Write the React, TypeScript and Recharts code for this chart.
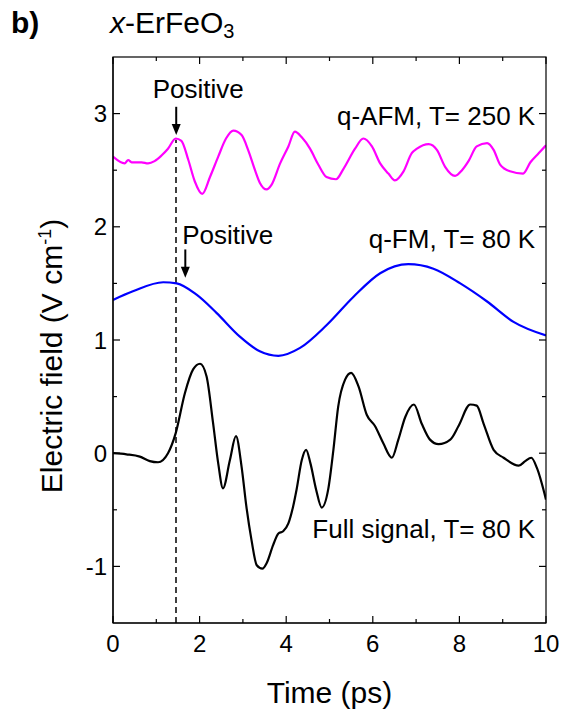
import React from 'react';
import { LineChart, Line, XAxis, YAxis, ReferenceLine, ReferenceDot } from 'recharts';

const FONT = "'Liberation Sans', Arial, Helvetica, sans-serif";

// x: time (ps), y: electric field (V/cm)
const timeTicks = [0, 1, 2, 3, 4, 5, 6, 7, 8, 9, 10];
const fieldTicks = [-1, -0.5, 0, 0.5, 1, 1.5, 2, 2.5, 3];
const timeMin = 0;
const timeMax = 10;
const fieldMin = -1.5;
const fieldMax = 3.5;

// q-AFM, T = 250 K (magenta)
const afmTime = [0, 0.27, 0.35, 0.43, 0.66, 0.81, 0.96, 1.12, 1.27, 1.45, 1.58, 1.74, 1.89, 2.06, 2.24, 2.43, 2.61, 2.78, 2.97, 3.12, 3.28, 3.39, 3.55, 3.66, 3.86, 4.05, 4.2, 4.36, 4.55, 4.74, 4.93, 5.15, 5.32, 5.59, 5.78, 5.98, 6.17, 6.36, 6.51, 6.71, 6.9, 7.02, 7.29, 7.48, 7.67, 7.9, 8.06, 8.21, 8.4, 8.64, 8.79, 8.94, 9.17, 9.47, 9.64, 9.83, 10];
const afmField = [2.62, 2.56, 2.59, 2.57, 2.57, 2.56, 2.58, 2.63, 2.69, 2.78, 2.76, 2.59, 2.4, 2.29, 2.44, 2.62, 2.78, 2.85, 2.81, 2.68, 2.5, 2.39, 2.33, 2.37, 2.56, 2.71, 2.84, 2.79, 2.69, 2.55, 2.44, 2.42, 2.51, 2.69, 2.78, 2.71, 2.56, 2.47, 2.41, 2.49, 2.65, 2.69, 2.73, 2.68, 2.53, 2.45, 2.5, 2.58, 2.71, 2.74, 2.68, 2.55, 2.49, 2.47, 2.57, 2.65, 2.72];

// q-FM, T = 80 K (blue)
const fmTime = [0, 0.46, 1.16, 1.47, 1.93, 2.39, 2.93, 3.39, 3.82, 4.32, 4.93, 5.55, 6.17, 6.82, 7.4, 8.02, 8.64, 9.25, 10];
const fmField = [1.354, 1.43, 1.51, 1.5, 1.4, 1.24, 1.03, 0.9, 0.86, 0.93, 1.13, 1.38, 1.59, 1.67, 1.63, 1.5, 1.34, 1.16, 1.04];

// Full signal, T = 80 K (black)
const fullTime = [0, 0.31, 0.62, 0.85, 1.04, 1.27, 1.45, 1.66, 1.85, 2.01, 2.16, 2.31, 2.43, 2.54, 2.7, 2.84, 2.97, 3.08, 3.2, 3.32, 3.45, 3.55, 3.7, 3.82, 3.93, 4.05, 4.16, 4.24, 4.36, 4.46, 4.56, 4.69, 4.82, 4.97, 5.09, 5.2, 5.36, 5.5, 5.67, 5.86, 6.05, 6.24, 6.44, 6.59, 6.75, 6.95, 7.13, 7.32, 7.52, 7.79, 7.98, 8.25, 8.4, 8.56, 8.79, 9.02, 9.37, 9.52, 9.66, 9.79, 10];
const fullField = [0, -0.01, -0.03, -0.07, -0.08, 0, 0.18, 0.53, 0.74, 0.79, 0.68, 0.27, -0.09, -0.31, -0.06, 0.15, -0.12, -0.47, -0.77, -0.99, -1.02, -0.97, -0.81, -0.71, -0.69, -0.62, -0.47, -0.32, -0.06, 0.03, -0.09, -0.32, -0.48, -0.32, 0.03, 0.41, 0.65, 0.71, 0.59, 0.34, 0.24, 0.09, -0.04, 0.12, 0.32, 0.43, 0.26, 0.12, 0.08, 0.12, 0.24, 0.43, 0.42, 0.26, 0.03, -0.04, -0.11, -0.07, -0.04, -0.13, -0.41];

// Annotations
const noteLabels = ['Positive', 'Positive', 'q-AFM, T= 250 K', 'q-FM, T= 80 K', 'Full signal, T= 80 K'];
const noteTimes = [1.97, 2.65, 9.75, 9.75, 9.75];
const noteFields = [3.136, 1.849, 2.9, 1.81, -0.75];
const noteAnchors = ['middle', 'middle', 'end', 'end', 'end'];

const arrowTimes = [1.46, 1.67];
const arrowTops = [3.06, 1.8];
const arrowTips = [2.81, 1.55];

const markerTime = 1.455;
const markerTop = 2.77;

const zip = (ts: number[], vs: number[]) => ts.map((t, i) => ({ t, v: vs[i] }));
const afmData = zip(afmTime, afmField);
const fmData = zip(fmTime, fmField);
const fullData = zip(fullTime, fullField);

// layout
const CHART_W = 563;
const CHART_H = 713;
const MARGIN = { top: 57, right: 17, bottom: 30, left: 8 };
const Y_AXIS_W = 105;
const X_AXIS_H = 60;
const PLOT_X = MARGIN.left + Y_AXIS_W;
const PLOT_Y = MARGIN.top;
const PLOT_W = CHART_W - MARGIN.left - MARGIN.right - Y_AXIS_W;
const PLOT_H = CHART_H - MARGIN.top - MARGIN.bottom - X_AXIS_H;
const X_MARGIN = 12;
const Y_MARGIN = 7;

// bottom ticks + mirrored top ticks
const BottomTick = (props: any) => {
  const { x, y, payload } = props;
  const major = payload.value % 2 === 0;
  const len = major ? 7 : 4;
  const axisY = y - X_MARGIN;
  const topY = axisY - PLOT_H;
  return (
    <g>
      <path d={`M${x},${axisY}V${axisY - len}`} stroke="#000" strokeWidth={1.2} fill="none" />
      <path d={`M${x},${topY}V${topY + len}`} stroke="#000" strokeWidth={1.2} fill="none" />
      {major && (
        <text x={x} y={axisY + 29} textAnchor="middle" fontSize={24} fontFamily={FONT} fill="#000">
          {payload.value}
        </text>
      )}
    </g>
  );
};

// left ticks + mirrored right ticks
const LeftTick = (props: any) => {
  const { x, y, payload } = props;
  const major = Number.isInteger(payload.value);
  const len = major ? 7 : 4;
  const axisX = x + Y_MARGIN;
  const rightX = axisX + PLOT_W;
  return (
    <g>
      <path d={`M${axisX},${y}H${axisX + len}`} stroke="#000" strokeWidth={1.2} fill="none" />
      <path d={`M${rightX},${y}H${rightX - len}`} stroke="#000" strokeWidth={1.2} fill="none" />
      {major && (
        <text x={axisX - 6} y={y + 8.6} textAnchor="end" fontSize={24} fontFamily={FONT} fill="#000">
          {String(payload.value)}
        </text>
      )}
    </g>
  );
};

const YLabel = () => (
  <text transform="translate(61.7, 356) rotate(-90)" textAnchor="middle" fontSize={30} fontFamily={FONT} fill="#000">
    Electric field (V cm<tspan dy={-11} fontSize={18}>-1</tspan>
    <tspan dy={11}>)</tspan>
  </text>
);

const XLabel = () => (
  <text x={329.5} y={703} textAnchor="middle" fontSize={30} fontFamily={FONT} fill="#000">
    Time (ps)
  </text>
);

const makeNote = (label: string, anchor: string) => (p: any) => (
  <text x={p.cx} y={p.cy} textAnchor={anchor} fontSize={26} fontFamily={FONT} fill="#000">
    {label}
  </text>
);

const ArrowHead = (p: any) => (
  <polygon points={`${p.cx - 4.5},${p.cy - 11} ${p.cx + 4.5},${p.cy - 11} ${p.cx},${p.cy}`} fill="#000" />
);

export default function App() {
  return (
    <div style={{ position: 'relative', width: CHART_W, height: CHART_H }}>
      <style>{'html { overflow: hidden; } body { margin: 0; }'}</style>
      <LineChart width={CHART_W} height={CHART_H} margin={MARGIN}>
        <XAxis
          dataKey="t"
          type="number"
          domain={[timeMin, timeMax]}
          ticks={timeTicks}
          interval={0}
          allowDataOverflow
          height={X_AXIS_H}
          tickSize={0}
          tickMargin={X_MARGIN}
          tickLine={false}
          axisLine={{ stroke: '#000', strokeWidth: 1.2 }}
          tick={<BottomTick />}
          label={<XLabel />}
        />
        <YAxis
          type="number"
          domain={[fieldMin, fieldMax]}
          ticks={fieldTicks}
          interval={0}
          allowDataOverflow
          width={Y_AXIS_W}
          tickSize={0}
          tickMargin={Y_MARGIN}
          tickLine={false}
          axisLine={{ stroke: '#000', strokeWidth: 1.2 }}
          tick={<LeftTick />}
          label={<YLabel />}
        />
        <ReferenceLine
          segment={[{ x: markerTime, y: fieldMin }, { x: markerTime, y: markerTop }]}
          stroke="#000"
          strokeWidth={1.5}
          strokeDasharray="6 4"
          ifOverflow="visible"
        />
        <Line data={afmData} dataKey="v" type="monotone" stroke="#FF00FF" strokeWidth={2.2} dot={false} isAnimationActive={false} />
        <Line data={fmData} dataKey="v" type="monotone" stroke="#0000FF" strokeWidth={2.2} dot={false} isAnimationActive={false} />
        <Line data={fullData} dataKey="v" type="monotone" stroke="#000000" strokeWidth={2.2} dot={false} isAnimationActive={false} />
        {arrowTimes.map((t, i) => (
          <ReferenceLine
            key={`as${i}`}
            segment={[{ x: t, y: arrowTops[i] }, { x: t, y: arrowTips[i] + 0.05 }]}
            stroke="#000"
            strokeWidth={2}
          />
        ))}
        {arrowTimes.map((t, i) => (
          <ReferenceDot key={`ah${i}`} x={t} y={arrowTips[i]} r={0} shape={ArrowHead} />
        ))}
        {noteLabels.map((label, i) => (
          <ReferenceDot key={`n${i}`} x={noteTimes[i]} y={noteFields[i]} r={0} shape={makeNote(label, noteAnchors[i])} />
        ))}
      </LineChart>
      <svg
        width={CHART_W}
        height={CHART_H}
        style={{ position: 'absolute', left: 0, top: 0, overflow: 'visible', pointerEvents: 'none' }}
      >
        <rect x={PLOT_X} y={PLOT_Y} width={PLOT_W} height={PLOT_H} fill="none" stroke="#000" strokeWidth={1.2} />
        <text x={11} y={33} fontSize={30} fontWeight="bold" fontFamily={FONT} fill="#000">b)</text>
        <text x={110} y={33} fontSize={30} fontFamily={FONT} fill="#000">
          <tspan fontStyle="italic">x</tspan>-ErFeO<tspan dy={5} fontSize={20}>3</tspan>
        </text>
      </svg>
    </div>
  );
}
